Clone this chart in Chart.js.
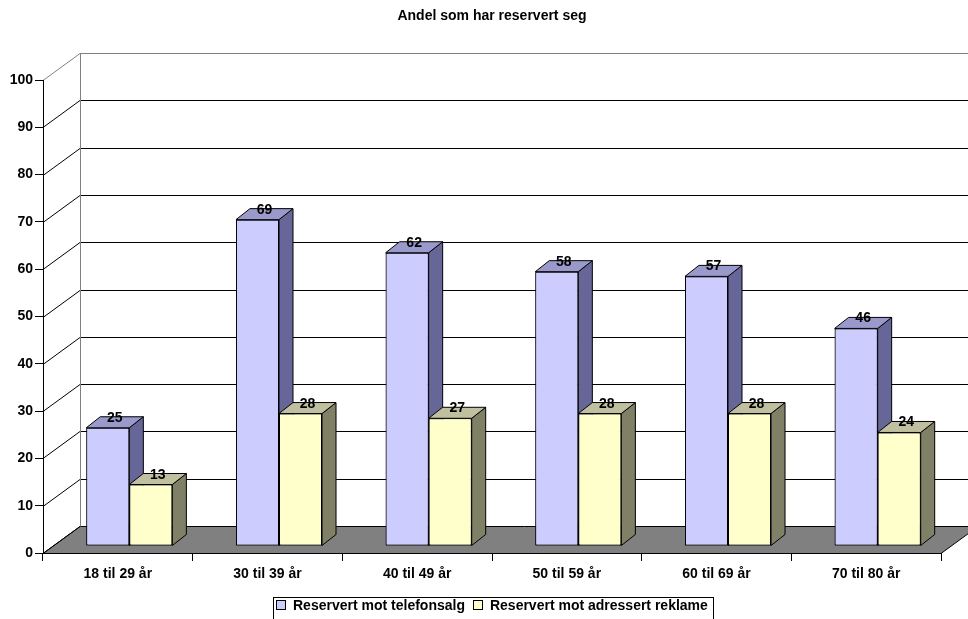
<!DOCTYPE html>
<html>
<head>
<meta charset="utf-8">
<script src="https://cdn.jsdelivr.net/npm/chart.js@4.4.1/dist/chart.umd.min.js"></script>
<style>
  html, body { margin: 0; padding: 0; background: #fff; }
  canvas { display: block; }
</style>
</head>
<body>
<canvas id="chart" width="968" height="619"></canvas>
<script>
// ---- data ----
const chartTitle = 'Andel som har reservert seg';
const categories = ['18 til 29 år', '30 til 39 år', '40 til 49 år', '50 til 59 år', '60 til 69 år', '70 til 80 år'];
const seriesNames = ['Reservert mot telefonsalg', 'Reservert mot adressert reklame'];
const telefonsalg = [25, 69, 62, 58, 57, 46];
const adressertReklame = [13, 28, 27, 28, 28, 24];
const yTicks = [0, 10, 20, 30, 40, 50, 60, 70, 80, 90, 100];

// ---- look ----
const FONT = '"Liberation Sans", Arial, Helvetica, sans-serif';
const TEXT_SIZE = 14;
const faceColors = [
  { front: '#CCCCFF', side: '#666699', top: '#9999CC' },
  { front: '#FFFFCC', side: '#808066', top: '#C0C0A0' }
];
// perspective offsets (px)
const depth = {
  wallDx: 37, wallDy: 27,        // front plane -> back wall
  barShiftX: 11.5, barShiftY: 7, // front plane -> bar front faces
  barDx: 14, barDy: 11           // bar thickness
};

const crisp = v => Math.round(v) + 0.5;

const box3d = {
  id: 'box3d',
  beforeDraw(chart) {
    const { ctx, chartArea: a, scales: { y } } = chart;
    const dx = depth.wallDx, dy = depth.wallDy;
    const W = chart.width;
    ctx.save();
    ctx.lineWidth = 1;

    // title
    ctx.font = 'bold 14px ' + FONT;
    ctx.fillStyle = '#000';
    ctx.textAlign = 'center';
    ctx.textBaseline = 'middle';
    ctx.fillText(chartTitle, 492, 16);

    // floor
    const y0 = crisp(y.getPixelForValue(0));
    ctx.beginPath();
    ctx.moveTo(a.left, y0);
    ctx.lineTo(a.right, y0);
    ctx.lineTo(a.right + dx, y0 - dy);
    ctx.lineTo(a.left + dx, y0 - dy);
    ctx.closePath();
    ctx.fillStyle = '#808080';
    ctx.fill();
    ctx.strokeStyle = '#000';
    ctx.stroke();

    // back wall grid lines and side wall diagonals
    yTicks.forEach(v => {
      const py = crisp(y.getPixelForValue(v));
      const isTop = v === yTicks[yTicks.length - 1];
      ctx.strokeStyle = isTop ? '#808080' : '#000';
      ctx.beginPath();
      ctx.moveTo(a.left, py);
      ctx.lineTo(a.left + dx, py - dy);
      if (v !== 0) ctx.lineTo(W, py - dy);
      ctx.stroke();
    });

    // back wall left edge
    ctx.strokeStyle = '#808080';
    ctx.beginPath();
    ctx.moveTo(crisp(a.left + dx), crisp(y.getPixelForValue(yTicks[yTicks.length - 1])) - dy);
    ctx.lineTo(crisp(a.left + dx), y0 - dy);
    ctx.stroke();
    ctx.restore();
  },
  beforeDatasetsDraw(chart) {
    chart.ctx.save();
    chart.ctx.translate(depth.barShiftX, -depth.barShiftY);
  },
  afterDatasetsDraw(chart) {
    const ctx = chart.ctx;
    const dx = depth.barDx, dy = depth.barDy;
    chart.data.datasets.forEach((ds, di) => {
      const meta = chart.getDatasetMeta(di);
      const col = faceColors[di];
      meta.data.forEach(bar => {
        bar.draw(ctx);
        const { x, y, base, width } = bar.getProps(['x', 'y', 'base', 'width'], true);
        const l = x - width / 2, r = x + width / 2;
        ctx.save();
        ctx.lineWidth = 1;
        ctx.strokeStyle = '#000';
        ctx.lineJoin = 'round';
        // side face
        ctx.beginPath();
        ctx.moveTo(r, y);
        ctx.lineTo(r + dx, y - dy);
        ctx.lineTo(r + dx, base - dy);
        ctx.lineTo(r, base);
        ctx.closePath();
        ctx.fillStyle = col.side;
        ctx.fill();
        ctx.stroke();
        // top face
        ctx.beginPath();
        ctx.moveTo(l, y);
        ctx.lineTo(l + dx, y - dy);
        ctx.lineTo(r + dx, y - dy);
        ctx.lineTo(r, y);
        ctx.closePath();
        ctx.fillStyle = col.top;
        ctx.fill();
        ctx.stroke();
        ctx.restore();
      });
    });
    // value labels
    ctx.save();
    ctx.font = 'bold ' + TEXT_SIZE + 'px ' + FONT;
    ctx.fillStyle = '#000';
    ctx.textAlign = 'center';
    ctx.textBaseline = 'alphabetic';
    chart.data.datasets.forEach((ds, di) => {
      const meta = chart.getDatasetMeta(di);
      meta.data.forEach((bar, i) => {
        const { x, y } = bar.getProps(['x', 'y'], true);
        ctx.fillText(String(ds.data[i]), x + dx / 2, y - dy + 5);
      });
    });
    ctx.restore();
    ctx.restore();
  },
  afterDraw(chart) {
    // legend
    const ctx = chart.ctx;
    ctx.save();
    ctx.font = 'bold ' + TEXT_SIZE + 'px ' + FONT;
    const sq = 10, gapText = 7, gapItem = 8;
    const widths = chart.data.datasets.map(ds => ctx.measureText(ds.label).width);
    const total = widths.reduce((s, w) => s + sq + gapText + w, 0) + gapItem * (widths.length - 1);
    const boxLeft = 273, boxTop = 597;
    const boxW = Math.round(total + 8);
    ctx.fillStyle = '#fff';
    ctx.strokeStyle = '#000';
    ctx.lineWidth = 1;
    ctx.fillRect(boxLeft, boxTop, boxW, 26);
    ctx.strokeRect(boxLeft + 0.5, boxTop + 0.5, boxW, 26);
    let cx = boxLeft + 3;
    const cy = 605;
    chart.data.datasets.forEach((ds, di) => {
      const sx = Math.round(cx) + 0.5;
      ctx.fillStyle = faceColors[di].front;
      ctx.fillRect(sx, cy - 4.5, sq - 1, sq - 1);
      ctx.strokeStyle = '#000';
      ctx.strokeRect(sx, cy - 4.5, sq - 1, sq - 1);
      ctx.fillStyle = '#000';
      ctx.textBaseline = 'middle';
      ctx.textAlign = 'left';
      ctx.fillText(ds.label, cx + sq + gapText, cy + 1);
      cx += sq + gapText + widths[di] + gapItem;
    });
    ctx.restore();
  }
};

new Chart(document.getElementById('chart'), {
  type: 'bar',
  data: {
    labels: categories,
    datasets: [
      {
        label: seriesNames[0],
        data: telefonsalg,
        backgroundColor: faceColors[0].front,
        borderColor: '#000',
        borderWidth: 1,
        borderSkipped: false
      },
      {
        label: seriesNames[1],
        data: adressertReklame,
        backgroundColor: faceColors[1].front,
        borderColor: '#000',
        borderWidth: 1,
        borderSkipped: false
      }
    ]
  },
  options: {
    responsive: false,
    devicePixelRatio: 1,
    animation: false,
    events: [],
    layout: { padding: { top: 80, right: 27, bottom: 36, left: 0 } },
    datasets: { bar: { barPercentage: 1, categoryPercentage: 0.575 } },
    scales: {
      x: {
        grid: { offset: true, drawOnChartArea: false, drawTicks: true, tickLength: 8, color: '#000' },
        border: { display: true, color: '#000' },
        ticks: { color: '#000', padding: 5, font: { family: FONT, size: TEXT_SIZE, weight: 'bold' }, maxRotation: 0 },
        afterFit(scale) { scale.height = 30; }
      },
      y: {
        min: 0,
        max: 100,
        grid: { drawOnChartArea: false, drawTicks: true, tickLength: 8, color: '#000' },
        border: { display: true, color: '#000' },
        ticks: {
          stepSize: 10,
          color: '#000',
          padding: 2,
          font: { family: FONT, size: TEXT_SIZE, weight: 'bold' }
        },
        afterBuildTicks(scale) { scale.ticks = yTicks.map(v => ({ value: v })); },
        afterFit(scale) { scale.width = 43; }
      }
    },
    plugins: {
      legend: { display: false },
      tooltip: { enabled: false },
      title: { display: false }
    }
  },
  plugins: [box3d]
});
</script>
</body>
</html>
